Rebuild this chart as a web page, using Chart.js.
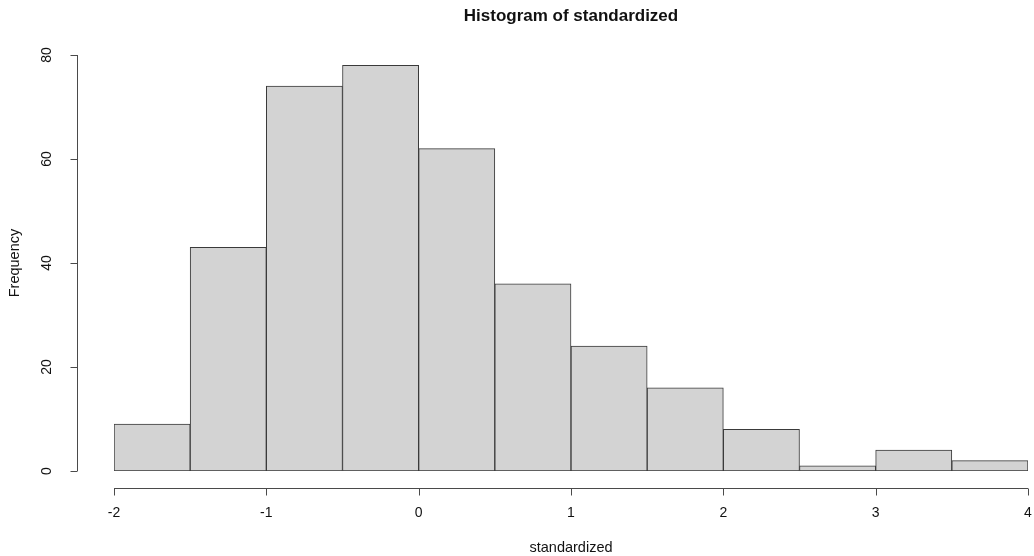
<!DOCTYPE html>
<html>
<head>
<meta charset="utf-8">
<script src="https://cdn.jsdelivr.net/npm/chart.js@4.4.0/dist/chart.umd.min.js"></script>
<style>
  html, body { margin: 0; padding: 0; background: #fff; }
  #wrap { width: 1034px; height: 556px; position: relative; }
</style>
</head>
<body>
<div id="wrap"><canvas id="histChart"></canvas></div>
<script>
// Histogram data
const binStarts = [-2, -1.5, -1, -0.5, 0, 0.5, 1, 1.5, 2, 2.5, 3, 3.5];
const binWidth = 0.5;
const counts = [9, 43, 74, 78, 62, 36, 24, 16, 8, 1, 4, 2];
const xTicks = [-2, -1, 0, 1, 2, 3, 4];
const yTicks = [0, 20, 40, 60, 80];

const chartTitle = 'Histogram of standardized';
const xTitle = 'standardized';
const yTitle = 'Frequency';

const FONT = '"Liberation Sans", Arial, Helvetica, sans-serif';
const AXIS_COLOR = '#4a4a4a';

// R style axes: detached from the plot region
const rAxes = {
    id: 'rAxes',
    afterDraw(chart) {
        const ctx = chart.ctx;
        const area = chart.chartArea;
        const xs = chart.scales.x;
        const ys = chart.scales.y;
        const axisX = Math.round(area.left - 37) + 0.5;
        const axisY = Math.round(area.bottom + 17) + 0.5;
        const tickLen = 7;

        ctx.save();
        ctx.strokeStyle = AXIS_COLOR;
        ctx.lineWidth = 1;
        ctx.fillStyle = '#111';

        // y axis
        const y0 = ys.getPixelForValue(yTicks[0]);
        const y1 = ys.getPixelForValue(yTicks[yTicks.length - 1]);
        ctx.beginPath();
        ctx.moveTo(axisX, y0);
        ctx.lineTo(axisX, y1);
        yTicks.forEach(v => {
            const py = Math.round(ys.getPixelForValue(v)) + 0.5;
            ctx.moveTo(axisX, py);
            ctx.lineTo(axisX - tickLen, py);
        });
        ctx.stroke();

        ctx.font = '14px ' + FONT;
        ctx.textAlign = 'center';
        ctx.textBaseline = 'middle';
        yTicks.forEach(v => {
            const py = ys.getPixelForValue(v);
            ctx.save();
            ctx.translate(axisX - 30, py);
            ctx.rotate(-Math.PI / 2);
            ctx.fillText(String(v), 0, 0);
            ctx.restore();
        });

        // x axis
        const x0 = xs.getPixelForValue(xTicks[0]);
        const x1 = xs.getPixelForValue(xTicks[xTicks.length - 1]);
        ctx.beginPath();
        ctx.moveTo(x0, axisY);
        ctx.lineTo(x1, axisY);
        xTicks.forEach(v => {
            const px = Math.round(xs.getPixelForValue(v)) + 0.5;
            ctx.moveTo(px, axisY);
            ctx.lineTo(px, axisY + tickLen);
        });
        ctx.stroke();

        xTicks.forEach(v => {
            ctx.fillText(String(v), xs.getPixelForValue(v), axisY + 25);
        });

        // titles
        const midX = (area.left + area.right) / 2;
        ctx.font = '14.5px ' + FONT;
        ctx.fillText(xTitle, midX, axisY + 59);

        ctx.save();
        ctx.translate(15, (area.top + area.bottom) / 2);
        ctx.rotate(-Math.PI / 2);
        ctx.fillText(yTitle, 0, 0);
        ctx.restore();

        ctx.font = 'bold 17px ' + FONT;
        ctx.fillText(chartTitle, midX, 16);

        ctx.restore();
    }
};

const histData = binStarts.map((s, i) => ({ x: s + binWidth / 2, y: counts[i] }));

new Chart(document.getElementById('histChart'), {
    type: 'bar',
    data: {
        datasets: [{
            data: histData,
            backgroundColor: '#d3d3d3',
            borderColor: '#3a3a3a',
            borderWidth: 1,
            borderSkipped: false,
            barPercentage: 1,
            categoryPercentage: 1
        }]
    },
    options: {
        responsive: true,
        maintainAspectRatio: false,
        animation: false,
        layout: { padding: { left: 114, right: 6, top: 55, bottom: 85 } },
        plugins: {
            legend: { display: false },
            tooltip: { enabled: false }
        },
        scales: {
            x: {
                type: 'linear',
                min: xTicks[0],
                max: xTicks[xTicks.length - 1],
                offset: false,
                display: false
            },
            y: {
                min: yTicks[0],
                max: yTicks[yTicks.length - 1],
                display: false
            }
        }
    },
    plugins: [rAxes]
});
</script>
</body>
</html>
